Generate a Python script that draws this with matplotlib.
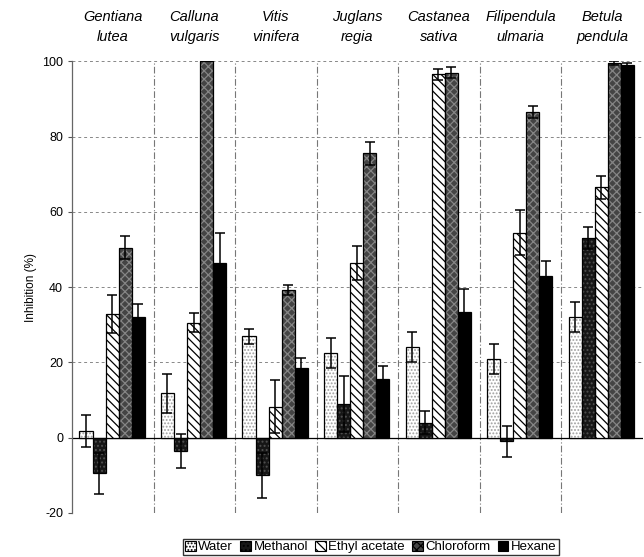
import numpy as np
import matplotlib
matplotlib.use("Agg")
import matplotlib.pyplot as plt

plt.rcParams['font.family'] = ['Liberation Sans', 'DejaVu Sans']
plt.rcParams['hatch.linewidth'] = 0.9
plt.rcParams['axes.unicode_minus'] = False

species = ['Gentiana\nlutea', 'Calluna\nvulgaris', 'Vitis\nvinifera', 'Juglans\nregia',
           'Castanea\nsativa', 'Filipendula\nulmaria', 'Betula\npendula']
solvents = ['Water', 'Methanol', 'Ethyl acetate', 'Chloroform', 'Hexane']

water = [1.8, 11.8, 27.0, 22.5, 24.0, 21.0, 32.0]
water_err = [4.2, 5.2, 2.0, 4.0, 4.0, 4.0, 4.0]
methanol = [-9.5, -3.5, -10.0, 9.0, 4.0, -1.0, 53.0]
methanol_err = [5.5, 4.5, 6.0, 7.5, 3.0, 4.0, 3.0]
ethyl_acetate = [32.8, 30.5, 8.2, 46.5, 96.5, 54.5, 66.5]
ethyl_acetate_err = [5.0, 2.5, 7.0, 4.5, 1.5, 6.0, 3.0]
chloroform = [50.5, 100.0, 39.3, 75.5, 97.0, 86.5, 99.5]
chloroform_err = [3.0, 0.0, 1.3, 3.0, 1.5, 1.5, 0.5]
hexane = [32.0, 46.5, 18.5, 15.5, 33.5, 43.0, 99.0]
hexane_err = [3.5, 8.0, 2.8, 3.5, 6.0, 4.0, 0.5]

values = [water, methanol, ethyl_acetate, chloroform, hexane]
errors = [water_err, methanol_err, ethyl_acetate_err, chloroform_err, hexane_err]

# face colour, hatch, hatch colour
styles = [
    ('white', '.....', '#a0a0a0'),
    ('#161616', '....', '#505050'),
    ('white', '\\\\\\\\', 'black'),
    ('#444444', 'xxxx', '#858585'),
    ('black', None, 'black'),
]

fig = plt.figure(figsize=(6.44, 5.57), dpi=100)
ax = fig.add_axes([0.112, 0.079, 0.886, 0.811])

x = np.arange(len(species))
width = 0.16
handles = []
for i, (vals, errs, (fc, hatch, hc)) in enumerate(zip(values, errors, styles)):
    pos = x + (i - 2) * width - 0.01
    ax.bar(pos, vals, width, color=fc, hatch=hatch, edgecolor=hc, linewidth=0, zorder=3)
    ax.bar(pos, vals, width, fill=False, edgecolor='black', linewidth=0.9, zorder=4)
    ax.errorbar(pos, vals, yerr=errs, fmt='none', ecolor='black', elinewidth=1.1,
                capsize=3.5, capthick=1.1, zorder=5)
    handles.append(plt.Rectangle((0, 0), 1, 1, facecolor=fc, hatch=hatch,
                                 edgecolor='black', linewidth=0.8))

ax.set_xlim(-0.5, 6.5)
ax.set_ylim(-20, 100)
ax.set_yticks(np.arange(-20, 101, 20))
ax.tick_params(axis='y', labelsize=9, length=3, width=0.8, color='#555555')
ax.set_xticks([])
ax.set_ylabel('Inhibition (%)', fontsize=8.5)

for yv in range(-20, 101, 20):
    if yv != 0:
        ax.axhline(yv, color='#888888', linestyle=(0, (3, 3)), linewidth=0.7, zorder=1)
ax.axhline(0, color='black', linewidth=0.9, zorder=2)
for xv in np.arange(0.5, 6.5, 1):
    ax.axvline(xv, color='#777777', linestyle=(0, (6, 2, 1, 2)), linewidth=0.8, zorder=1)

for s in ['top', 'right', 'bottom']:
    ax.spines[s].set_visible(False)
ax.spines['left'].set_color('#666666')
ax.spines['left'].set_linewidth(0.9)

for xi, name in zip(x, species):
    ax.text(xi, 1.075, name, transform=ax.get_xaxis_transform(), ha='center', va='center',
            fontsize=10.5, style='italic', linespacing=1.55)

fig.legend(handles, solvents, loc='center', bbox_to_anchor=(0.576, 0.018), ncol=5,
           fontsize=9.5, frameon=True, fancybox=False, edgecolor='black',
           handlelength=0.8, handleheight=0.8, handletextpad=0.2, columnspacing=0.55,
           borderpad=0.15, borderaxespad=0)

fig.savefig('out.png', dpi=100)
